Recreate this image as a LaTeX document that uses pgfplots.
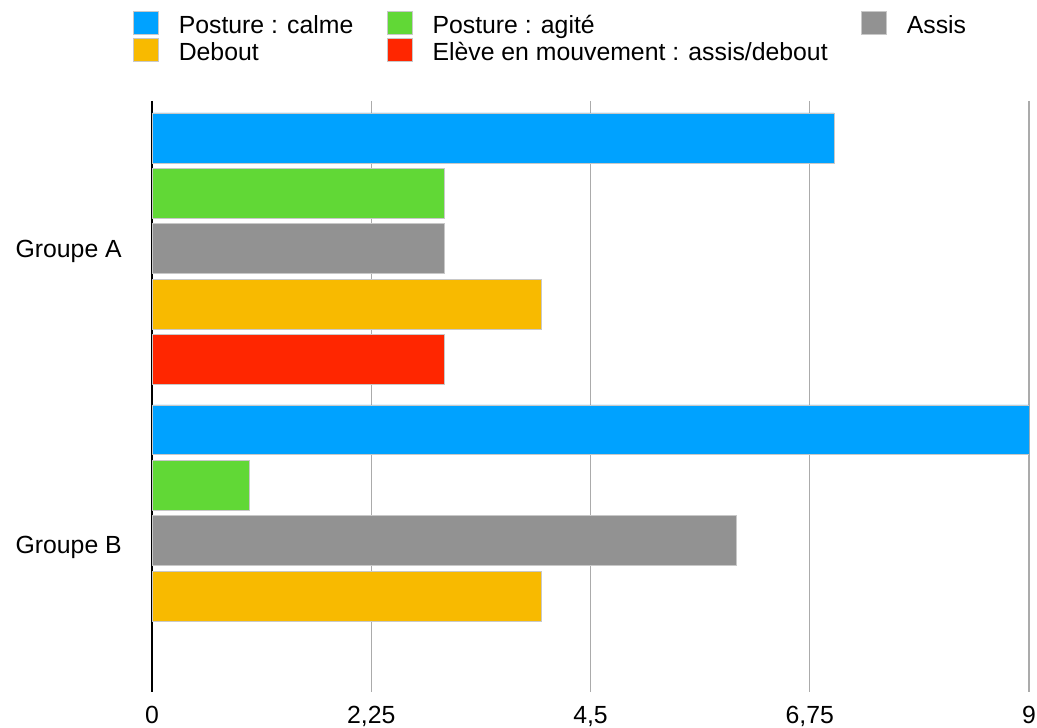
\documentclass[border=0pt]{standalone}
\usepackage{fontspec}
\setmainfont{Liberation Sans}
\usepackage{pgfplots}
\pgfplotsset{compat=1.18}
\definecolor{cblue}{HTML}{00A2FF}
\definecolor{cgreen}{HTML}{61D836}
\definecolor{cgray}{HTML}{929292}
\definecolor{cyellow}{HTML}{F8BA00}
\definecolor{cred}{HTML}{FF2600}
\definecolor{cborder}{HTML}{C8C8C8}
\definecolor{cgrid}{HTML}{ABABAB}
\pgfplotsset{
  layers/mylayers/.define layer set={axis background,axis grid,main,axis ticks,axis lines,axis tick labels,axis descriptions,axis foreground}{},
}
\begin{document}
\begin{tikzpicture}[font=\fontsize{18.6pt}{22.3pt}\selectfont]
\begin{axis}[
  set layers=mylayers,
  scale only axis, width=657.75pt, height=443.25pt,
  xbar, bar width=0.169,
  xmin=0, xmax=9, ymin=-0.5, ymax=1.5, y dir=reverse,
  axis x line=bottom, axis y line=left,
  x axis line style={draw=none, -},
  y axis line style={black, line width=1.5pt, -},
  major tick length=0pt,
  ytick={0,1}, yticklabels={Groupe A, Groupe B},
  xtick={0,2.25,4.5,6.75,9}, xticklabels={0,{2,25},{4,5},{6,75},9},
  xticklabel style={anchor=base, inner sep=0pt, yshift=-23.25pt},
  yticklabel style={anchor=base east, inner sep=0pt, xshift=-22.5pt, yshift=-6.6pt},
  xmajorgrids, grid style={cgrid, line width=1.1pt},
  every axis plot/.append style={draw=cborder, line width=0.6pt},
  legend columns=3,
  legend image code/.code={\fill[#1] (0pt,-0.75pt) rectangle (18.75pt,16.5pt);},
  legend style={draw=none, fill=none, inner sep=0pt, outer sep=0pt,
    at={(axis description cs:0,1)}, anchor=north west, xshift=-14.25pt, yshift=67.5pt,
    nodes={inner sep=0pt},
    cells={anchor=base west},
    row sep=2pt,
    /tikz/every odd column/.style={column sep=15pt},
    /tikz/every even column/.style={column sep=25pt}},
]
\addplot[fill=cblue, bar shift=-0.375] coordinates {(7,0) (9,0.988)};
\addlegendentry{Posture : calme}
\addplot[fill=cgreen, bar shift=-0.1875] coordinates {(3,0) (1,0.988)};
\addlegendentry{Posture : agité}
\addplot[fill=cgray, bar shift=0] coordinates {(3,0) (6,0.988)};
\addlegendentry{Assis}
\addplot[fill=cyellow, bar shift=0.1875] coordinates {(4,0) (4,0.988)};
\addlegendentry{Debout}
\addplot[fill=cred, bar shift=0.375] coordinates {(3,0)};
\addlegendentry{Elève en mouvement : assis/debout}
\end{axis}
\pgfresetboundingbox
\path ([shift={(-114pt,-26.25pt)}]current axis.south west) rectangle ([shift={(6pt,75.75pt)}]current axis.north east);
\end{tikzpicture}
\end{document}
